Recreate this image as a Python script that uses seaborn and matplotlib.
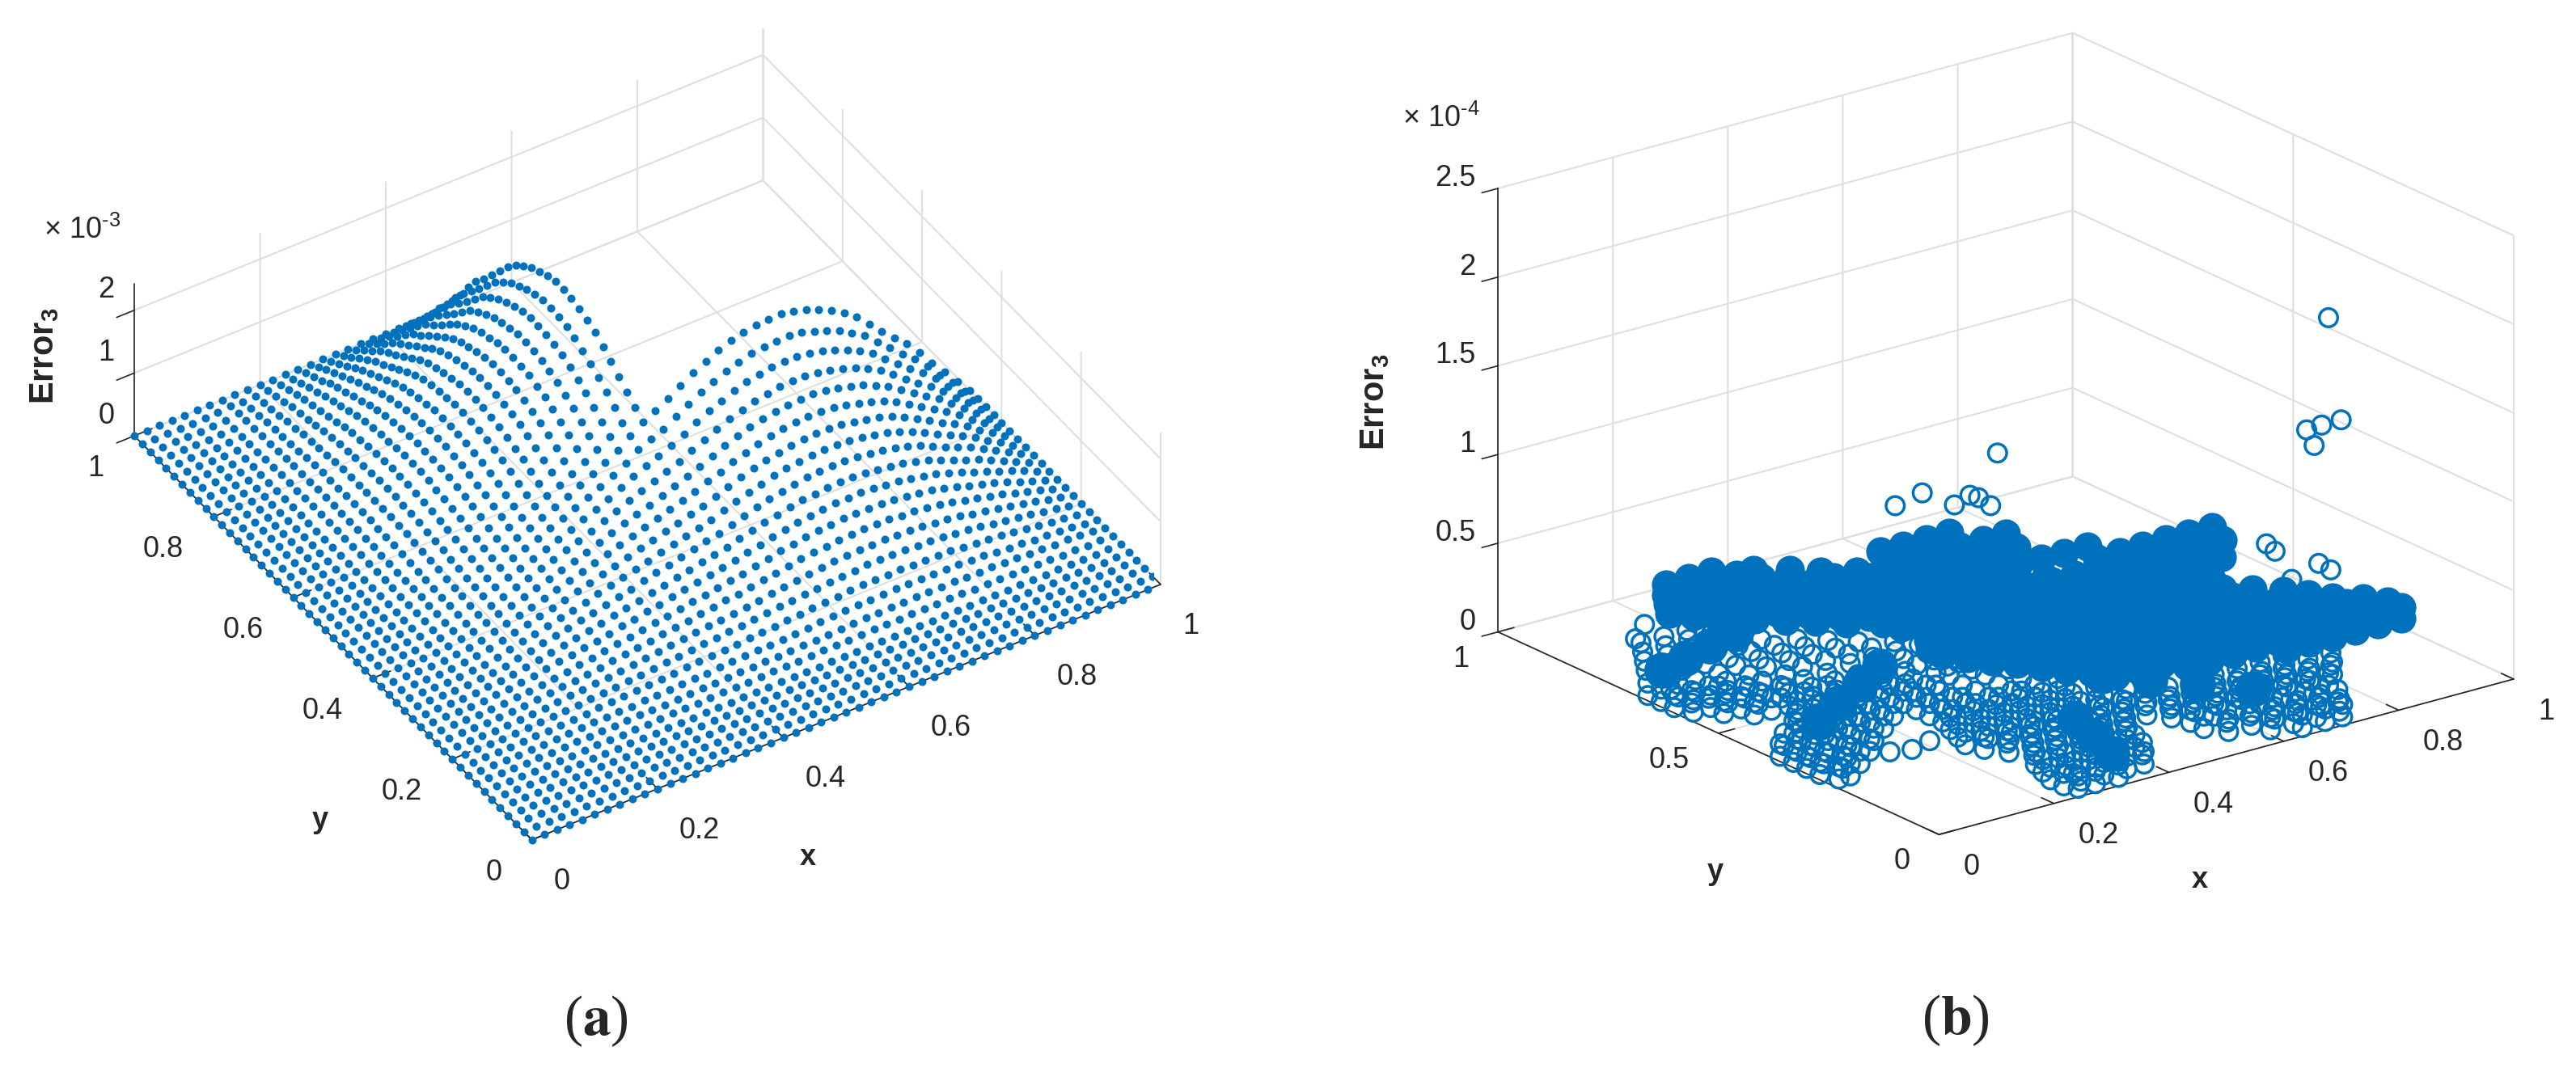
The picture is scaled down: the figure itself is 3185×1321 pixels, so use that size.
import matplotlib
matplotlib.use("Agg")
import matplotlib.pyplot as plt
import seaborn as sns
from mpl_toolkits.mplot3d import proj3d

# panel (a): error on the L-shaped grid, z in units of 1e-5
grid_xy = [0, .02, .04, .06, .08, .1, .12, .14, .16, .18, .2, .22, .24, .26, .28, .3, .32,
           .34, .36, .38, .4, .42, .44, .46, .48, .5, .52, .54, .56, .58, .6, .62, .64, .66,
           .68, .7, .72, .74, .76, .78, .8, .82, .84, .86, .88, .9, .92, .94, .96, .98, 1]
# row i holds the values for j = i .. 50, the surface is mirrored about x = y
surf_rows = {
    6: [0, 0, 0, 1, 1, 1, 1, 1, 2, 2, 2, 2, 3, 3, 3, 3, 3, 4, 4, 4, 4, 5, 5, 5, 5, 6, 6, 6, 6, 6, 6, 6, 6, 5, 5, 5, 4, 4, 3, 3, 2, 2, 1, 1, 0],
    7: [1, 1, 1, 2, 2, 2, 3, 3, 3, 4, 4, 5, 5, 6, 6, 6, 7, 7, 8, 8, 8, 9, 10, 10, 11, 11, 12, 12, 12, 12, 12, 12, 11, 11, 11, 10, 9, 8, 7, 6, 6, 5, 3, 0],
    8: [1, 2, 3, 3, 4, 4, 5, 5, 6, 7, 8, 8, 9, 10, 11, 12, 12, 13, 14, 15, 16, 17, 18, 19, 19, 20, 20, 20, 20, 19, 19, 18, 17, 16, 14, 12, 11, 9, 8, 6, 4, 2, 0],
    9: [3, 4, 5, 6, 7, 8, 9, 10, 11, 13, 14, 15, 16, 17, 19, 20, 21, 23, 24, 26, 27, 28, 29, 30, 30, 30, 30, 29, 29, 28, 27, 25, 23, 21, 19, 16, 14, 11, 8, 6, 3, 0],
    10: [5, 7, 8, 9, 11, 12, 14, 16, 17, 19, 21, 22, 24, 25, 27, 29, 31, 33, 35, 36, 38, 39, 40, 41, 41, 41, 40, 39, 38, 36, 34, 32, 29, 25, 22, 19, 16, 11, 8, 4, 0],
    11: [8, 10, 11, 14, 16, 18, 20, 22, 24, 26, 28, 30, 32, 34, 36, 39, 42, 44, 46, 48, 50, 51, 52, 52, 52, 51, 50, 48, 46, 44, 41, 36, 32, 28, 24, 20, 15, 10, 5, 0],
    12: [12, 14, 17, 19, 22, 24, 27, 29, 32, 35, 37, 40, 42, 45, 48, 51, 54, 57, 59, 61, 63, 64, 64, 64, 63, 61, 60, 57, 54, 50, 45, 40, 35, 30, 24, 18, 12, 6, 0],
    13: [17, 20, 23, 26, 29, 32, 35, 38, 41, 44, 47, 50, 53, 57, 61, 65, 68, 71, 73, 74, 76, 76, 76, 75, 73, 71, 68, 64, 59, 53, 47, 41, 36, 29, 21, 14, 7, 0],
    14: [23, 26, 30, 33, 37, 40, 44, 48, 51, 55, 58, 62, 66, 70, 75, 78, 82, 84, 86, 88, 88, 88, 87, 84, 82, 78, 74, 69, 62, 55, 48, 41, 33, 25, 17, 8, 0],
    15: [30, 34, 38, 42, 46, 50, 54, 58, 62, 66, 70, 75, 80, 85, 89, 93, 96, 98, 100, 100, 100, 99, 96, 93, 89, 84, 78, 70, 62, 54, 47, 38, 28, 19, 9, 0],
    16: [38, 43, 47, 52, 57, 61, 66, 70, 75, 79, 85, 90, 96, 101, 105, 108, 111, 112, 113, 113, 111, 108, 105, 101, 95, 88, 79, 70, 61, 53, 43, 32, 21, 10, 0],
    17: [48, 53, 58, 63, 68, 73, 78, 83, 88, 95, 101, 107, 112, 117, 121, 123, 125, 126, 126, 124, 121, 117, 112, 106, 98, 88, 78, 68, 59, 48, 35, 24, 11, 0],
    18: [58, 64, 70, 75, 81, 86, 92, 97, 104, 111, 118, 124, 129, 133, 136, 138, 139, 139, 137, 133, 129, 124, 117, 108, 97, 86, 75, 65, 53, 39, 26, 13, 0],
    19: [70, 77, 83, 89, 95, 101, 107, 115, 122, 130, 136, 142, 147, 150, 152, 153, 153, 151, 147, 142, 136, 129, 119, 107, 95, 83, 72, 58, 43, 29, 14, 0],
    20: [84, 91, 97, 104, 111, 118, 126, 134, 143, 150, 156, 161, 165, 167, 168, 168, 165, 161, 156, 150, 141, 131, 118, 104, 91, 79, 64, 47, 32, 15, 0],
    21: [99, 107, 114, 121, 129, 138, 147, 156, 164, 171, 177, 180, 183, 184, 184, 181, 177, 171, 164, 155, 144, 129, 114, 99, 86, 70, 52, 35, 17, 0],
    22: [117, 125, 133, 141, 152, 162, 172, 180, 188, 194, 198, 201, 202, 202, 199, 194, 188, 180, 170, 158, 141, 125, 109, 95, 77, 57, 38, 18, 0],
    23: [138, 147, 155, 167, 178, 189, 198, 206, 213, 218, 221, 222, 222, 219, 213, 206, 198, 186, 173, 155, 138, 120, 104, 84, 62, 42, 20, 0],
    24: [161, 171, 183, 195, 207, 217, 227, 234, 239, 243, 244, 244, 240, 234, 227, 217, 205, 190, 171, 151, 132, 115, 93, 68, 46, 22, 0],
}
last_full_row = 24

# panel (b): solid middle of the star, per y row
core_y = [.88, .85, .82, .79, .76, .73, .7, .67, .64, .61, .58, .55, .52, .49, .46, .43, .4, .37, .34, .31, .28, .25, .22, .19]
core_x = [
    [.2, .24, .28],
    [.18, .22, .26, .3, .33],
    [.16, .2, .24, .28, .32, .37],
    [.18, .22, .26, .3, .34, .4],
    [.2, .24, .28, .32, .36, .4, .44],
    [.24, .28, .32, .36, .4, .44, .47],
    [.27, .31, .35, .39, .43, .47, .5],
    [.3, .34, .38, .42, .46, .5, .53],
    [.33, .37, .41, .45, .49, .53, .56],
    [.37, .41, .45, .49, .53, .57, .6],
    [.38, .42, .46, .5, .54, .58, .63],
    [.4, .44, .48, .52, .56, .6, .65],
    [.38, .42, .46, .5, .54, .58, .62, .68],
    [.36, .4, .44, .48, .52, .56, .6, .64, .67, .71],
    [.36, .4, .44, .48, .52, .56, .6, .64, .68, .74],
    [.38, .42, .46, .5, .54, .58, .62, .66, .7, .74, .77],
    [.4, .44, .48, .52, .56, .6, .64, .68, .72, .76, .8],
    [.42, .46, .5, .54, .58, .62, .66, .7, .74, .78, .83],
    [.44, .48, .52, .56, .6, .64, .68, .72, .76, .8, .86],
    [.46, .5, .54, .58, .62, .66, .7, .74, .78, .82, .88],
    [.48, .52, .56, .6, .64, .68, .72, .76, .8, .84, .9],
    [.5, .54, .58, .62, .66, .7, .74, .78, .82, .86, .9, .93],
    [.6, .64, .68, .72, .76, .8, .84, .88, .92, .95],
    [.75, .79, .83, .87, .91, .95],
]
core_levels = [.17, .23]

# raised lobes behind the middle
lobe_y = [.68, .63, .6, .58, .55, .5, .45, .4, .4, .35, .3]
lobe_x = [
    [.42, .46, .5, .54],
    [.4, .44, .48, .52, .56, .6],
    [.36, .4, .44, .48, .52, .56],
    [.36, .4, .44, .48, .52, .56, .58],
    [.56, .6, .64, .68],
    [.5, .54, .58, .62, .66],
    [.62, .66, .7, .74, .78, .82],
    [.58, .62, .66, .7, .74, .78, .8],
    [.62, .66, .7, .74, .78],
    [.56, .6, .64, .68, .72, .76],
    [.62, .66, .7, .74],
]
lobe_z = [.45, .45, .3, .45, .4, .35, .5, .5, .3, .5, .35]

# solid ridges down the four lower arms
spine_x = [.233, .177, .122, .068, .316, .251, .185, .117, .405, .383, .361, .535, .578, .621, .671]
spine_y = [.767, .75, .733, .716, .546, .505, .465, .422, .218, .149, .079, .328, .275, .223, .161]
spine_z = [.05, .05, .05, .05, .05, .05, .05, .05, .05, .05, .05, .05, .05, .05, .05]

# open circles on the lower arms
ring_y = [.66, .63, .6, .57, .54, .51, .48, .45, .42, .39, .36, .33, .3, .27, .24, .21, .18, .15, .12, .09, .06, .03, .01]
ring_x = [
    [0, .04],
    [0, .03, .06, .1],
    [0, .03, .06, .09, .13],
    [.01, .04, .07, .1, .13, .17],
    [.04, .07, .1, .14, .18, .22],
    [.07, .1, .13, .17, .21, .25],
    [.12, .15, .19, .23, .27, .31],
    [.1, .14, .18, .22, .26, .3, .34],
    [.07, .1, .14, .18, .22, .26, .3],
    [.03, .06, .1, .14, .18, .22, .26, .3, .34],
    [0, .03, .06, .1, .14, .18, .26, .3, .34, .38, .42],
    [0, .03, .06, .1, .14, .26, .3, .34, .38, .42, .46],
    [0, .03, .07, .11, .25, .29, .33, .37, .41, .45],
    [0, .04, .07, .24, .28, .32, .36, .4, .44, .48],
    [.01, .03, .23, .27, .31, .35, .39, .43, .47, .51],
    [.24, .28, .32, .36, .4, .44, .48, .52, .56, .6, .64, .68, .72, .76],
    [.26, .3, .34, .38, .42, .46, .5, .54, .58, .62, .66, .7, .74, .78, .82],
    [.28, .32, .36, .4, .44, .52, .56, .6, .64, .68, .72, .76, .8],
    [.26, .3, .34, .38, .42, .53, .57, .61, .65, .69, .73, .77],
    [.25, .29, .33, .37, .41, .53, .57, .61, .65, .69, .73],
    [.24, .28, .32, .36, .4, .55, .59, .63, .67, .71, .74],
    [.24, .27, .31, .35, .38, .6, .64, .68, .72],
    [.25, .28, .32, .64, .68, .71],
]
ring_levels = [.03, .1]

# open circles between the left arms and the middle
arm_y = [.78, .75, .72, .69, .66, .63, .6, .57, .54, .51, .48, .45, .42, .39]
arm_x = [
    [.08, .12, .16],
    [.06, .1, .14, .18],
    [.04, .08, .12, .16, .2],
    [.02, .06, .1, .14, .18, .22],
    [.06, .1, .14, .18, .22, .26],
    [.13, .17, .21, .25, .29],
    [.16, .2, .24, .28, .32],
    [.2, .24, .28, .32, .36],
    [.26, .3, .34, .38],
    [.29, .33, .37],
    [.33, .36],
    [.36, .38],
    [.34, .38],
    [.38, .42],
]
arm_levels = [.12]

# stray circles above the star
stray_x = [.415, .462, .518, .545, .56, .581, .593, .908, .93, .896, .87, .883, .8, .815, .891, .912, .844, .205, .165, .135, .136, .092]
stray_y = [.64, .64, .64, .64, .64, .64, .64, .3, .3, .3, .3, .3, .3, .3, .3, .3, .3, .288, .276, .287, .845, .808]
stray_z = [.759, .79, .673, .704, .677, .614, .9, 1.775, 1.18, 1.18, 1.176, 1.077, .595, .54, .405, .35, .356, .02, .02, .02, .1, .1]

BLUE = "#0072BD"
W, H = 3185, 1321
DPI = 200

sns.set_theme(style="white", rc={
    "grid.color": "#dfdfdf", "grid.linewidth": 0.75,
    "axes.edgecolor": "#262626", "axes.linewidth": 0.6,
    "xtick.color": "#262626", "ytick.color": "#262626", "text.color": "#262626",
    "xtick.major.width": 0.6, "ytick.major.width": 0.6,
    "axes.labelcolor": "#262626",
})
plt.rcParams["font.family"] = ["Liberation Sans", "DejaVu Sans"]
plt.rcParams["mathtext.fontset"] = "custom"
plt.rcParams["mathtext.rm"] = "Liberation Sans"
plt.rcParams["mathtext.bf"] = "Liberation Sans:bold"
plt.rcParams["mathtext.it"] = "Liberation Sans:italic"

fig = plt.figure(figsize=(W / DPI, H / DPI), dpi=DPI, facecolor="white")


def tick_text(ax, x, y, z, s, ha):
    # the automatic 3d tick labels land too far out, so project the spot by hand
    x2, y2, _ = proj3d.proj_transform(x, y, z, ax.get_proj())
    ax.text2D(x2, y2, s, transform=ax.transData, ha=ha, va="center", fontsize=13, clip_on=False)


def panel(center, side, elev, azim, aspect, zlim, xt, yt, zt, x_off, y_off, z_off):
    # center of the box and axes side are in pixels from the top left
    left = (center[0] - 0.5135 * side) / W
    bottom = (H - center[1] - 0.5135 * side) / H
    ax = fig.add_axes([left, bottom, side / W, side / H], projection="3d", proj_type="ortho")
    ax.view_init(elev=elev, azim=azim)
    ax.set_box_aspect(aspect)
    ax.patch.set_alpha(0)
    ax.set_xlim(0, 1, view_margin=0)
    ax.set_ylim(0, 1, view_margin=0)
    ax.set_zlim(0, zlim, view_margin=0)
    ax.set_xticks(xt)
    ax.set_yticks(yt)
    ax.set_zticks(zt)
    for axis in (ax.xaxis, ax.yaxis):
        axis.set_pane_color((1, 1, 1, 0))
        axis.pane.set_edgecolor("none")
        axis._axinfo["tick"]["inward_factor"] = 0
        axis._axinfo["tick"]["outward_factor"] = 0.35
    ax.zaxis.set_pane_color((1, 1, 1, 0))
    ax.zaxis.pane.set_edgecolor("none")
    ax.zaxis._axinfo["tick"]["inward_factor"] = 0.35
    ax.zaxis._axinfo["tick"]["outward_factor"] = 0
    for axis in (ax.xaxis, ax.yaxis, ax.zaxis):
        axis.set_tick_params(label1On=False)
    for t in xt:
        tick_text(ax, t, x_off[0], x_off[1], f"{t:g}", "left")
    for t in yt:
        tick_text(ax, y_off[0], t, y_off[1], f"{t:g}", "right")
    for t in zt:
        tick_text(ax, 0, z_off, t, f"{t:g}", "right")
    return ax


# panel (a)
ax_a = panel((800.5, 537), 1285, 40, -122.3, (920, 920, 245.4), 2.42,
             [0, .2, .4, .6, .8, 1], [0, .2, .4, .6, .8, 1], [0, 1, 2],
             (-.055, -.31), (-.048, -.33), 1.05)
xs, ys, zs = [], [], []
for i, gx in enumerate(grid_xy):
    for j, gy in enumerate(grid_xy):
        if i > last_full_row and j > last_full_row:
            continue
        lo, hi = min(i, j), max(i, j)
        z = surf_rows[lo][hi - lo] if lo in surf_rows else 0
        xs.append(gx)
        ys.append(gy)
        zs.append(z / 100)
ax_a.scatter(xs, ys, zs, s=13, c=BLUE, linewidths=0, depthshade=False)

# panel (b)
ax_b = panel((2480, 536.5), 1355, 20.65, -127.5, (906, 906, 593), 2.5,
             [0, .2, .4, .6, .8, 1], [0, .5, 1], [0, .5, 1, 1.5, 2, 2.5],
             (-.055, -.12), (-.05, -.11), 1.05)


def flatten(rows_y, rows_x):
    px, py = [], []
    for y, row in zip(rows_y, rows_x):
        px += row
        py += [y] * len(row)
    return px, py


def rings(rx, ry, rz):
    ax_b.scatter(rx, ry, rz, s=66, facecolors="none", edgecolors=BLUE, linewidths=1.25, depthshade=False)


px, py = flatten(ring_y, ring_x)
for level in ring_levels:
    rings(px, py, [level] * len(px))
px, py = flatten(arm_y, arm_x)
for level in arm_levels:
    rings(px, py, [level] * len(px))
rings(stray_x, stray_y, stray_z)
ax_b.scatter(spine_x, spine_y, spine_z, s=260, c=BLUE, linewidths=0, depthshade=False)
px, py = flatten(core_y, core_x)
for level in core_levels:
    ax_b.scatter(px, py, [level] * len(px), s=170, c=BLUE, linewidths=0, depthshade=False)
px, py = flatten(lobe_y, lobe_x)
pz = []
for lz, row in zip(lobe_z, lobe_x):
    pz += [lz] * len(row)
ax_b.scatter(px, py, pz, s=170, c=BLUE, linewidths=0, depthshade=False)


def label(x, y, s, **kw):
    fig.text(x / W, 1 - y / H, s, ha="center", va="center", **kw)


label(102, 285, r"× 10$^{\text{-}3}$", fontsize=13)
label(1782, 147, r"× 10$^{\text{-}4}$", fontsize=13)
label(55, 440, r"$\mathbf{Error_3}$", fontsize=15, rotation=90)
label(1700, 497, r"$\mathbf{Error_3}$", fontsize=15, rotation=90)
label(999, 1060, "x", fontsize=13, fontweight="bold")
label(396, 1015, "y", fontsize=13, fontweight="bold")
label(2720, 1089, "x", fontsize=13, fontweight="bold")
label(2121, 1079, "y", fontsize=13, fontweight="bold")
label(737, 1263, r"($\mathbf{a}$)", fontsize=25, family="Liberation Serif", math_fontfamily="stix")
label(2418, 1262, r"($\mathbf{b}$)", fontsize=25, family="Liberation Serif", math_fontfamily="stix")

fig.savefig("out.png", dpi=DPI)
